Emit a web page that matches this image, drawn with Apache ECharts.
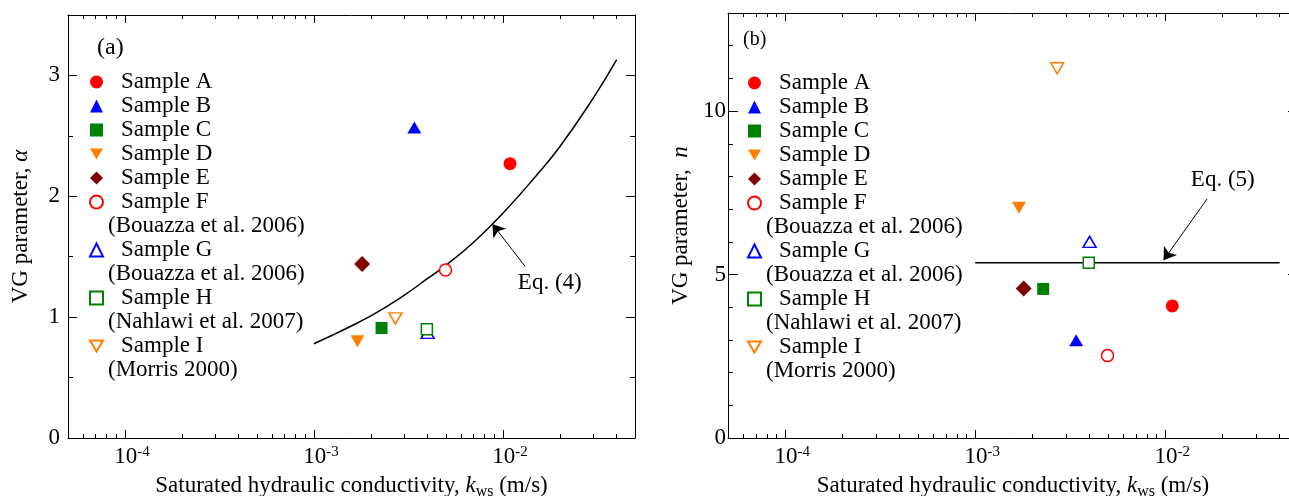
<!DOCTYPE html>
<html><head><meta charset="utf-8">
<script src="https://cdn.jsdelivr.net/npm/echarts@6/dist/echarts.min.js"></script>
<style>html,body{margin:0;padding:0;background:#fff}#c{width:1289px;height:496px}</style>
</head><body><div id="c"></div>
<script>
const FONT = 'Liberation Serif';

// ---- data ----
const sampleNames = ['Sample A', 'Sample B', 'Sample C', 'Sample D', 'Sample E', 'Sample F', 'Sample G', 'Sample H', 'Sample I'];
const sampleSources = { 'Sample F': '(Bouazza et al. 2006)', 'Sample G': '(Bouazza et al. 2006)', 'Sample H': '(Nahlawi et al. 2007)', 'Sample I': '(Morris 2000)' };
const kws = [1.09e-2, 3.40e-3, 2.28e-3, 1.70e-3, 1.80e-3, 4.97e-3, 4.00e-3, 3.96e-3, 2.70e-3];
const alphaValues = [2.27, 2.57, 0.91, 0.80, 1.44, 1.39, 0.87, 0.90, 0.99];
const nValues = [4.04, 2.99, 4.56, 7.04, 4.57, 2.52, 6.00, 5.36, 11.31];

const eq4K = [1e-3, 1.25e-3, 1.5e-3, 2e-3, 2.5e-3, 3e-3, 4e-3, 5e-3, 7e-3, 1e-2, 1.5e-2, 2e-2, 3e-2, 4e-2];
const eq4Alpha = [0.78, 0.85, 0.91, 1.01, 1.10, 1.18, 1.32, 1.43, 1.62, 1.86, 2.17, 2.41, 2.81, 3.13];
const eq5K = [1e-3, 4e-2];
const eq5N = [5.36, 5.36];

// annotation anchors (data space)
const eq4Note = { label: 'Eq. (4)', text: [1.77e-2, 1.28], tail: [1.31e-2, 1.42], tip: [8.8e-3, 1.77] };
const eq5Note = { label: 'Eq. (5)', text: [2.01e-2, 7.89], tail: [1.66e-2, 7.31], tip: [9.8e-3, 5.44] };

const xRange = [5e-5, 5e-2];
const alphaRange = [0, 3.5];
const nRange = [0, 13];

// ---- styles ----
const DOWN = 'path://M0,0L14,0L7,12Z';
const styles = [
  { symbol: 'circle', size: 13, color: '#ff0000', open: false },
  { symbol: 'triangle', size: [14, 12], color: '#0000ff', open: false },
  { symbol: 'rect', size: 12, color: '#008000', open: false },
  { symbol: DOWN, size: [14, 12], color: '#ff7f00', open: false },
  { symbol: 'diamond', size: [16, 16], color: '#7f0000', open: false },
  { symbol: 'circle', size: 12, color: '#ff0000', open: true },
  { symbol: 'triangle', size: [13, 11], color: '#0000ff', open: true },
  { symbol: 'rect', size: 11, color: '#008000', open: true },
  { symbol: DOWN, size: [13, 11], color: '#ff7f00', open: true }
];

const isPow10 = v => Math.abs(Math.log10(v) - Math.round(Math.log10(v))) < 1e-6;

function xAxes(g) {
  const common = {
    type: 'log', logBase: 10, gridIndex: g, min: xRange[0], max: xRange[1],
    axisLine: { show: true, onZero: false, lineStyle: { color: '#000', width: 1 } },
    axisTick: { show: true, inside: true, length: 8, lineStyle: { color: '#000', width: 1 } },
    minorTick: { show: true, splitNumber: 9, length: 4, lineStyle: { color: '#000', width: 1 } },
    splitLine: { show: false }, minorSplitLine: { show: false }
  };
  const bottom = Object.assign({}, common, {
    position: 'bottom',
    axisLabel: {
      show: true, margin: 7, color: '#000',
      formatter: v => isPow10(v) ? '{b|10}{s|' + Math.round(Math.log10(v)) + '}' : '',
      rich: {
        b: { fontFamily: FONT, fontSize: 23, lineHeight: 24, color: '#000', padding: [0, 0, 0, 14] },
        s: { fontFamily: FONT, fontSize: 15, lineHeight: 11, color: '#000', verticalAlign: 'top' }
      }
    },
    name: 'Saturated hydraulic conductivity, {i|k}{sub|ws} (m/s)',
    nameLocation: 'middle', nameGap: 31,
    nameTextStyle: {
      fontFamily: FONT, fontSize: 23, color: '#000', lineHeight: 26,
      rich: {
        i: { fontFamily: FONT, fontSize: 23, fontStyle: 'italic', color: '#000', lineHeight: 26 },
        sub: { fontFamily: FONT, fontSize: 16, color: '#000', lineHeight: 12, verticalAlign: 'bottom' }
      }
    }
  });
  const top = Object.assign({}, common, { position: 'top', axisLabel: { show: false } });
  return [bottom, top];
}

function yAxes(g, range, majorInt, minorInt, name, labelMargin, majorLen) {
  const base = { type: 'value', gridIndex: g, min: range[0], max: range[1], splitLine: { show: false } };
  const tickStyle = { color: '#000', width: 1 };
  return [
    Object.assign({}, base, {
      position: 'left', interval: majorInt,
      axisLine: { show: true, onZero: false, lineStyle: { color: '#000', width: 1 } },
      axisTick: { show: true, inside: true, length: majorLen, lineStyle: tickStyle },
      axisLabel: { show: true, margin: labelMargin, fontFamily: FONT, fontSize: 23, color: '#000',
        formatter: v => (Math.abs(v / majorInt - Math.round(v / majorInt)) < 1e-9 ? String(v) : '') },
      name: name, nameLocation: 'middle', nameGap: 36,
      nameTextStyle: { fontFamily: FONT, fontSize: 23, color: '#000',
        rich: { i: { fontFamily: FONT, fontSize: 23, fontStyle: 'italic', color: '#000' } } }
    }),
    Object.assign({}, base, {
      position: 'left', interval: minorInt,
      axisLine: { show: false }, axisLabel: { show: false },
      axisTick: { show: true, inside: true, length: 5, lineStyle: tickStyle }
    }),
    Object.assign({}, base, {
      position: 'right', interval: majorInt,
      axisLine: { show: true, onZero: false, lineStyle: { color: '#000', width: 1 } },
      axisLabel: { show: false },
      axisTick: { show: true, inside: true, length: majorLen, lineStyle: tickStyle }
    }),
    Object.assign({}, base, {
      position: 'right', interval: minorInt,
      axisLine: { show: false }, axisLabel: { show: false },
      axisTick: { show: true, inside: true, length: 5, lineStyle: tickStyle }
    })
  ];
}

function sampleSeries(values, xIdx, yIdx) {
  return sampleNames.map((name, i) => {
    const st = styles[i];
    return {
      type: 'scatter', name: name, xAxisIndex: xIdx, yAxisIndex: yIdx, z: 5,
      symbol: st.symbol, symbolSize: st.size,
      itemStyle: st.open
        ? { color: '#ffffff', borderColor: st.color, borderWidth: 1.5, opacity: 1 }
        : { color: st.color, borderWidth: 0, opacity: 1 },
      emphasis: { disabled: true },
      data: [[kws[i], values[i]]]
    };
  });
}

function eqSeries(xs, ys, note, xIdx, yIdx, smooth) {
  return {
    type: 'line', name: note.label, xAxisIndex: xIdx, yAxisIndex: yIdx, z: 2,
    smooth: smooth, showSymbol: false, symbol: 'none',
    lineStyle: { color: '#000', width: 1.5 },
    emphasis: { disabled: true },
    data: xs.map((x, i) => [x, ys[i]]),
    markLine: {
      silent: true, symbol: ['none', 'arrow'], symbolSize: 12,
      lineStyle: { color: '#000', width: 1, type: 'solid' },
      itemStyle: { color: '#000' },
      label: { show: false },
      emphasis: { disabled: true },
      data: [[{ coord: note.tail }, { coord: note.tip }]]
    },
    markPoint: {
      silent: true, symbol: 'circle', symbolSize: 1,
      itemStyle: { color: 'rgba(0,0,0,0)' },
      label: { show: true, position: 'inside', formatter: note.label, fontFamily: FONT, fontSize: 23, color: '#000' },
      data: [{ coord: note.text }]
    }
  };
}

const legendOrder = [];
sampleNames.forEach(n => { legendOrder.push(n); if (sampleSources[n]) legendOrder.push('src:' + n); });

function sourceSeries(xIdx, yIdx) {
  return Object.keys(sampleSources).map(n => ({
    type: 'scatter', name: 'src:' + n, xAxisIndex: xIdx, yAxisIndex: yIdx, data: []
  }));
}

function makeLegend(left, top) {
  return {
    orient: 'vertical', left: left, top: top, padding: 0, itemGap: 0,
    itemWidth: 13, itemHeight: 13, selectedMode: false,
    data: legendOrder.map(n => n.startsWith('src:') ? { name: n, icon: 'none' } : { name: n }),
    formatter: n => n.startsWith('src:') ? '{r|' + sampleSources[n.slice(4)] + '}' : '{s|' + n + '}',
    textStyle: {
      fontFamily: FONT, fontSize: 23, color: '#000', lineHeight: 24,
      rich: {
        s: { fontFamily: FONT, fontSize: 23, color: '#000', lineHeight: 24, padding: [0, 0, 0, 13] },
        r: { fontFamily: FONT, fontSize: 23, color: '#000', lineHeight: 24 }
      }
    }
  };
}

const chart = echarts.init(document.getElementById('c'), null, { renderer: 'canvas' });
chart.setOption({
  animation: false,
  backgroundColor: '#ffffff',
  textStyle: { fontFamily: FONT },
  title: [
    { text: '(a)', left: 97, top: 36, padding: 0, textStyle: { fontFamily: FONT, fontSize: 24, fontWeight: 'normal', color: '#000' } },
    { text: '(b)', left: 743, top: 30, padding: 0, textStyle: { fontFamily: FONT, fontSize: 20, fontWeight: 'normal', color: '#000' } }
  ],
  grid: [
    { left: 68, top: 15, width: 567, height: 423, containLabel: false, outerBoundsMode: 'none' },
    { left: 728, top: 13, width: 570, height: 425, containLabel: false, outerBoundsMode: 'none' }
  ],
  xAxis: [...xAxes(0), ...xAxes(1)],
  yAxis: [
    ...yAxes(0, alphaRange, 1, 0.5, 'VG parameter, {i|α}', 8, 9),
    ...yAxes(1, nRange, 5, 1, 'VG parameter,  {i|n}', 2, 10)
  ],
  legend: [makeLegend(89, 70), makeLegend(747, 71)],
  series: [
    eqSeries(eq4K, eq4Alpha, eq4Note, 0, 0, true),
    eqSeries(eq5K, eq5N, eq5Note, 2, 4, false),
    ...sampleSeries(alphaValues, 0, 0),
    ...sampleSeries(nValues, 2, 4),
    ...sourceSeries(0, 0)
  ]
});
</script></body></html>
